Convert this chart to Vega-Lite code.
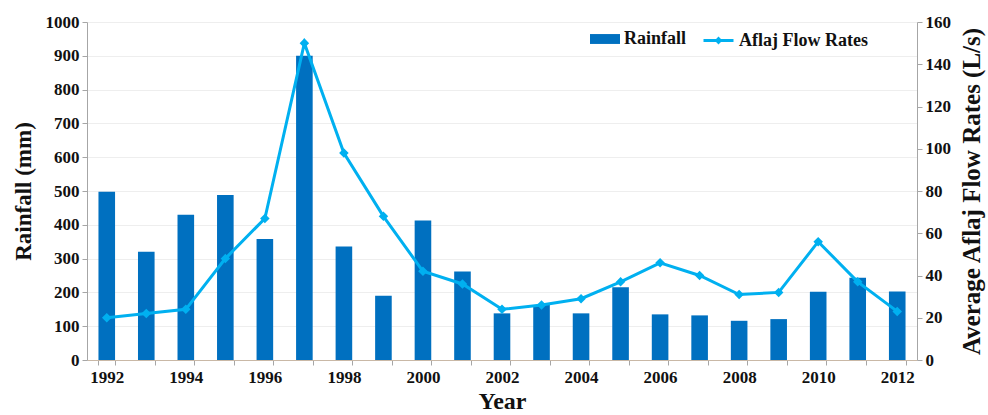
{
  "$schema": "https://vega.github.io/schema/vega-lite/v6.json",
  "autosize": "none",
  "width": 830,
  "height": 338,
  "padding": {"left": 87, "top": 22, "right": 71, "bottom": 55},
  "background": "white",
  "config": {
    "font": "Liberation Serif",
    "view": {"stroke": null},
    "axis": {
      "labelFont": "Liberation Serif",
      "titleFont": "Liberation Serif",
      "labelFontWeight": "bold",
      "titleFontWeight": "bold",
      "labelColor": "#111111",
      "titleColor": "#111111",
      "domainColor": "#a6a6a6",
      "tickColor": "#a6a6a6",
      "gridColor": "#eeeeee"
    }
  },
  "data": {
    "values": [
      {"year": 1992, "rainfall": 498, "flow": 20},
      {"year": 1993, "rainfall": 320, "flow": 22},
      {"year": 1994, "rainfall": 430, "flow": 24},
      {"year": 1995, "rainfall": 488, "flow": 48},
      {"year": 1996, "rainfall": 358, "flow": 67},
      {"year": 1997, "rainfall": 900, "flow": 150},
      {"year": 1998, "rainfall": 336, "flow": 98},
      {"year": 1999, "rainfall": 190, "flow": 68},
      {"year": 2000, "rainfall": 413, "flow": 42},
      {"year": 2001, "rainfall": 262, "flow": 36},
      {"year": 2002, "rainfall": 138, "flow": 24},
      {"year": 2003, "rainfall": 163, "flow": 26},
      {"year": 2004, "rainfall": 138, "flow": 29},
      {"year": 2005, "rainfall": 215, "flow": 37},
      {"year": 2006, "rainfall": 135, "flow": 46},
      {"year": 2007, "rainfall": 132, "flow": 40},
      {"year": 2008, "rainfall": 116, "flow": 31},
      {"year": 2009, "rainfall": 121, "flow": 32},
      {"year": 2010, "rainfall": 202, "flow": 56},
      {"year": 2011, "rainfall": 243, "flow": 37},
      {"year": 2012, "rainfall": 203, "flow": 23}
    ]
  },
  "encoding": {
    "x": {
      "field": "year",
      "type": "ordinal",
      "scale": {"paddingInner": 0.58, "paddingOuter": 0.29},
      "axis": {
        "title": "Year",
        "titleFontSize": 24,
        "titlePadding": 4,
        "labelFontSize": 17,
        "labelAngle": 0,
        "labelPadding": 4,
        "tickBand": "extent",
        "tickSize": 5,
        "domainColor": "#c9b8a6",
        "labelExpr": "datum.value % 2 == 0 ? datum.label : ''"
      }
    }
  },
  "layer": [
    {
      "mark": {"type": "bar", "color": "#0070C0"},
      "encoding": {
        "y": {
          "field": "rainfall",
          "type": "quantitative",
          "scale": {"domain": [0, 1000]},
          "axis": {
            "title": "Rainfall  (mm)",
            "titleFontSize": 23,
            "titlePadding": 10,
            "labelFontSize": 17,
            "format": "d",
            "tickCount": 10,
            "tickSize": 5,
            "labelPadding": 3
          }
        },
        "fill": {
          "datum": "Rainfall",
          "scale": {"domain": ["Rainfall"], "range": ["#0070C0"]},
          "legend": {
            "orient": "none",
            "legendX": 503,
            "legendY": 2,
            "title": null,
            "labelFont": "Liberation Serif",
            "labelFontWeight": "bold",
            "labelFontSize": 18,
            "labelColor": "#111111",
            "labelOffset": 4,
            "symbolType": "M-1,-0.33H1V0.33H-1Z",
            "symbolSize": 900,
            "symbolStrokeWidth": 0
          }
        }
      }
    },
    {
      "mark": {
        "type": "line",
        "strokeWidth": 3,
        "point": {"filled": true, "shape": "diamond", "size": 45, "color": "#00B0F0"}
      },
      "encoding": {
        "y": {
          "field": "flow",
          "type": "quantitative",
          "scale": {"domain": [0, 160]},
          "axis": {
            "orient": "right",
            "title": "Average Aflaj Flow  Rates (L/s)",
            "titleAngle": -90,
            "titleFontSize": 25,
            "titlePadding": 34,
            "labelFontSize": 17,
            "tickCount": 8,
            "tickSize": 5,
            "labelPadding": 3,
            "grid": false
          }
        },
        "stroke": {
          "datum": "Aflaj Flow Rates",
          "scale": {"domain": ["Aflaj Flow Rates"], "range": ["#00B0F0"]},
          "legend": {
            "orient": "none",
            "legendX": 615,
            "legendY": 2,
            "title": null,
            "labelFont": "Liberation Serif",
            "labelFontWeight": "bold",
            "labelFontSize": 18,
            "labelColor": "#111111",
            "labelOffset": 4,
            "symbolType": "M-1,0H1M-0.12,0L0,-0.12L0.12,0L0,0.12Z",
            "symbolSize": 900,
            "symbolStrokeWidth": 3,
            "symbolFillColor": "#00B0F0"
          }
        }
      }
    }
  ],
  "resolve": {"scale": {"y": "independent", "fill": "independent", "stroke": "independent"}}
}
